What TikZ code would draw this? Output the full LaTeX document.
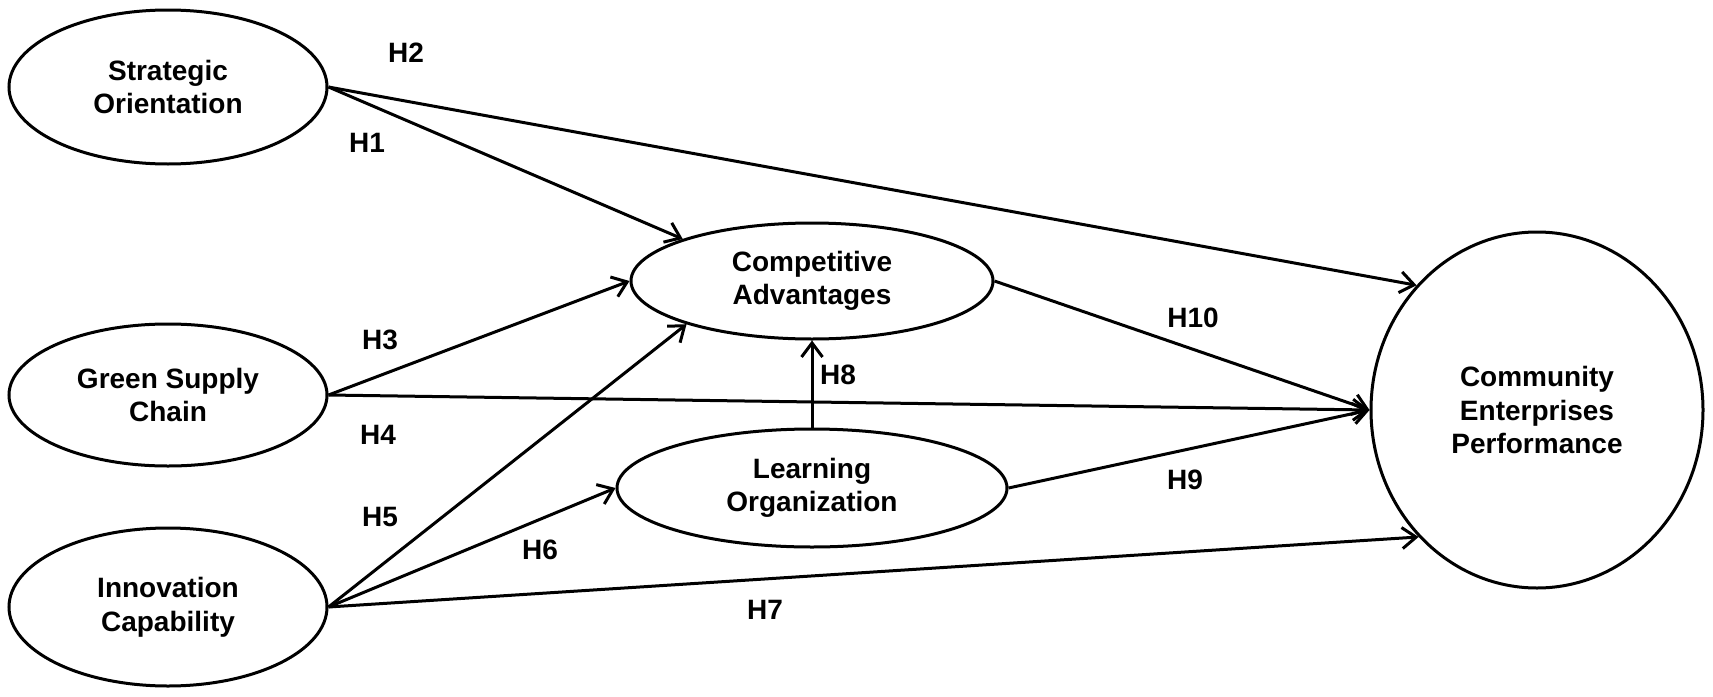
\documentclass[tikz,border=0pt]{standalone}
\usepackage{fontspec}
\setmainfont{Liberation Sans}
\usetikzlibrary{shapes.geometric,arrows.meta}
\begin{document}
\begin{tikzpicture}[x=1pt,y=-1pt,
  latent/.style={ellipse,draw,line width=3pt,inner sep=0pt,align=center,
    font=\fontsize{28}{33.6}\selectfont\bfseries},
  hyp/.style={line width=3pt,-{Straight Barb[length=14pt,width=21pt]}},
  hlab/.style={inner sep=0pt,font=\fontsize{28}{33.6}\selectfont\bfseries}]
\fill[white] (0,0) rectangle (1713,696);
\useasboundingbox (0,0) rectangle (1713,696);
% constructs
\node[latent,minimum width=318pt,minimum height=154pt] (so) at (168,87) {Strategic\\Orientation};
\node[latent,minimum width=318pt,minimum height=142pt] (gsc) at (168,395) {Green Supply\\Chain};
\node[latent,minimum width=318pt,minimum height=158pt] (ic) at (168,607) {Innovation\\Capability};
\node[latent,minimum width=362pt,minimum height=116pt] (ca) at (812,281) {Competitive\\Advantages};
\node[latent,minimum width=390pt,minimum height=118pt] (lo) at (812,488) {Learning\\Organization};
\node[latent,minimum width=332pt,minimum height=356pt] (cep) at (1537,410) {Community\\Enterprises\\Performance};
% paths
\draw[hyp] (so.east) -- (ca.162);
\draw[hyp] (so.east) -- (cep.134);
\draw[hyp] (gsc.east) -- (ca.west);
\draw[hyp] (gsc.east) -- (cep.west);
\draw[hyp] (ic.east) -- (ca.199);
\draw[hyp] (ic.east) -- (lo.west);
\draw[hyp] (ic.east) -- (cep.227);
\draw[hyp] (lo.north) -- (ca.south);
\draw[hyp] (ca.east) -- (cep.west);
\draw[hyp] (lo.east) -- (cep.west);
% labels
\node[hlab] (h1) at (367,143) {H1};
\node[hlab] (h2) at (406,53) {H2};
\node[hlab] (h3) at (380,340) {H3};
\node[hlab] (h4) at (378,435) {H4};
\node[hlab] (h5) at (380,517) {H5};
\node[hlab] (h6) at (540,550) {H6};
\node[hlab] (h7) at (765,610) {H7};
\node[hlab] (h8) at (838,375) {H8};
\node[hlab] (h9) at (1185,480) {H9};
\node[hlab] (h10) at (1193,318) {H10};
\end{tikzpicture}
\end{document}
